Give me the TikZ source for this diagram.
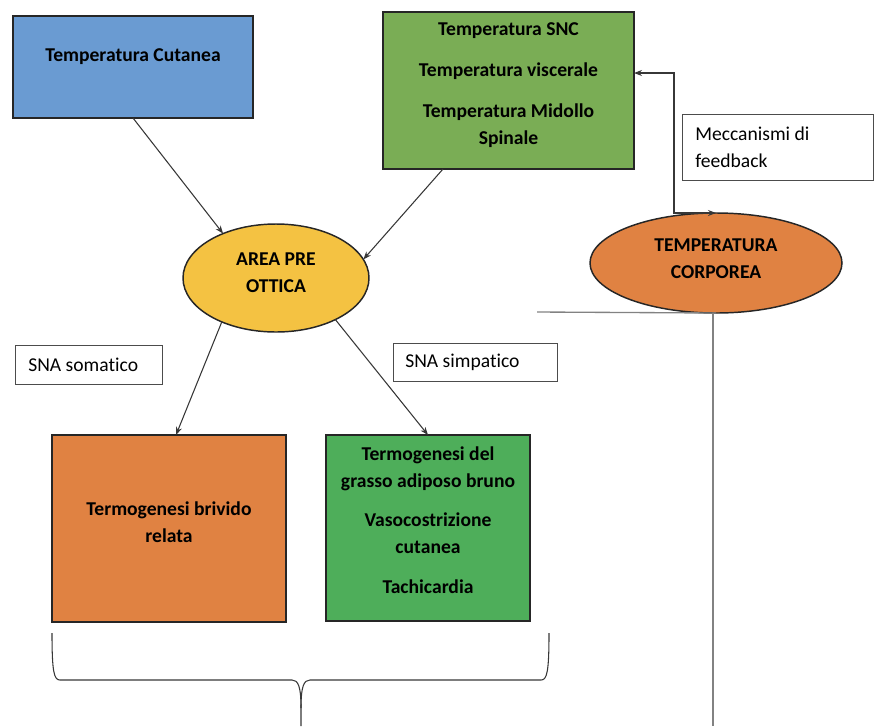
\documentclass[tikz,border=0pt]{standalone}
\usepackage{fontspec}
\setmainfont{Carlito}[Ligatures={NoCommon,NoRare,NoContextual}]
\usetikzlibrary{arrows.meta,shapes.geometric,calc}
\definecolor{cblue}{RGB}{106,155,210}
\definecolor{cgreenA}{RGB}{122,173,85}
\definecolor{cgreenB}{RGB}{78,174,90}
\definecolor{corange}{RGB}{224,130,66}
\definecolor{cyellow}{RGB}{244,194,66}
\definecolor{cline}{RGB}{55,55,55}
\definecolor{cgray}{RGB}{130,130,130}
\begin{document}
\begin{tikzpicture}[x=0.75pt,y=-0.75pt,
  txtb/.style={font=\fontsize{14.7}{20.25}\selectfont\bfseries, align=center, inner sep=0pt},
  txtr/.style={font=\fontsize{14.7}{20.25}\selectfont, align=left, inner sep=0pt, anchor=west},
  box/.style={draw=black!85, line width=1.1pt, rectangle, inner sep=0pt, outer sep=0pt},
  lbox/.style={draw=black!70, line width=0.7pt, rectangle, inner sep=0pt, outer sep=0pt, fill=white},
  oval/.style={draw=black!85, line width=1.1pt, ellipse, inner sep=0pt, outer sep=0pt},
  arr/.style={draw=cline, line width=0.8pt, -{Stealth[length=6pt,width=4.5pt]}},
  dblarr/.style={draw=cline, line width=0.8pt, {Stealth[length=6pt,width=4.5pt]}-{Stealth[length=6pt,width=4.5pt]}},
  plain/.style={draw=cgray, line width=1pt},
  brace/.style={draw=cline, line width=0.8pt}
]
\useasboundingbox (0,0) rectangle (874,726);

% boxes
\node[box, fill=cblue, minimum width=180pt, minimum height=76.5pt] (bt) at (133,67) {};
\node[txtb] (btx) at (133,57) {Temperatura Cutanea};

\node[box, fill=cgreenA, minimum width=188.25pt, minimum height=117.75pt] (gt) at (508.5,90.5) {};
\node[txtb] (gtx) at (508.5,85) {Temperatura SNC\\[10.5pt]Temperatura viscerale\\[10.5pt]Temperatura Midollo\\Spinale};

\node[lbox, minimum width=143.25pt, minimum height=49.5pt] (mf) at (777.5,147) {};
\node[txtr] (mftx) at (695,147) {Meccanismi di\\feedback};

\node[oval, fill=cyellow, minimum width=139.5pt, minimum height=81pt] (ya) at (276,278) {};
\node[txtb] (yatx) at (276,273) {AREA PRE\\OTTICA};

\node[oval, fill=corange, minimum width=189pt, minimum height=75pt] (tc) at (716,263) {};
\node[txtb] (tctx) at (716,258.5) {TEMPERATURA\\CORPOREA};

\node[lbox, minimum width=110.25pt, minimum height=29.25pt] (ss) at (88.5,364.5) {};
\node[txtr] (sstx) at (28,365) {SNA somatico};

\node[lbox, minimum width=123pt, minimum height=28.5pt] (sp) at (475,362) {};
\node[txtr] (sptx) at (405,362) {SNA simpatico};

\node[box, fill=corange, minimum width=175.5pt, minimum height=140.25pt] (ob) at (169,528.5) {};
\node[txtb] (obtx) at (169,522) {Termogenesi brivido\\relata};

\node[box, fill=cgreenB, minimum width=153pt, minimum height=139.5pt] (gb) at (428,528) {};
\node[txtb] (gbtx) at (428,520.5) {Termogenesi del\\grasso adiposo bruno\\[9pt]Vasocostrizione\\cutanea\\[10pt]Tachicardia};

% connectors
\draw[arr] (bt.south) -- (ya.140);
\draw[arr] ([xshift=45pt]gt.south west) -- (ya.12);
\draw[arr] (ya.219) -- ([xshift=5.25pt]ob.north);
\draw[arr] (ya.-35) -- (gb.north);
\draw[dblarr] (gt.east |- 0,73) -- (674,73) -- (674,213) -- (tc.north);

% right lines
\coordinate (hl) at (537,312);
\draw[plain] (hl) -- (tc.south);
\coordinate (vl) at (713,726);
\draw[plain] ([xshift=-2.25pt]tc.south) -- (vl);

% brace
\coordinate (brL) at (52,633);
\coordinate (brR) at (549,633);
\coordinate (brT) at (301,726);
\draw[brace] (brL) .. controls (52,672) and (54,680) .. (60,680) -- (292,680)
  .. controls (298,680) and (301,686) .. (301,708) -- (brT);
\draw[brace] (301,708) .. controls (301,686) and (304,680) .. (310,680) -- (541,680)
  .. controls (547,680) and (549,672) .. (brR);
\end{tikzpicture}
\end{document}
